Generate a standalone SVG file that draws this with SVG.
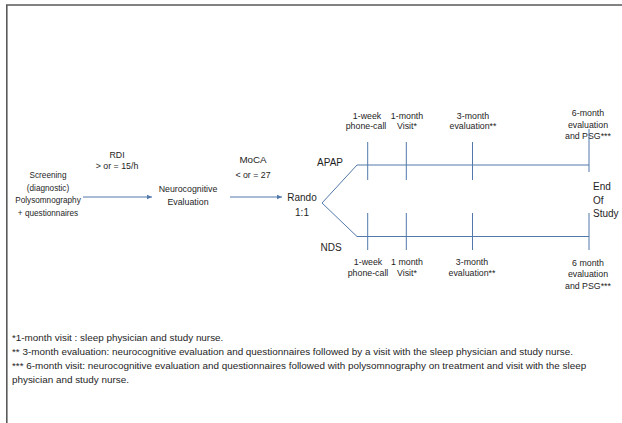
<svg xmlns="http://www.w3.org/2000/svg" width="622" height="423" viewBox="0 0 622 423">
<style>
text{font-family:"Liberation Sans",Arial,sans-serif;fill:#1e1e1e;}
.c{text-anchor:middle;}
.s8{font-size:8.2px;}
.s9{font-size:8.8px;}
.s10{font-size:10px;}
.fn{font-size:9.9px;}
.ln{stroke:#5279aa;stroke-width:1;fill:none;}
.bd{stroke:#5a5a5a;stroke-width:1.6;fill:none;}
</style>
<defs>
<marker id="ah" markerWidth="6" markerHeight="6" refX="5" refY="3" orient="auto" markerUnits="userSpaceOnUse">
<path d="M0,0.8 L5,3 L0,5.2 Z" fill="#5279aa"/>
</marker>
</defs>
<rect x="0" y="0" width="622" height="423" fill="#ffffff"/>
<path class="bd" d="M6.8,423 L6.8,5 L622,5"/>

<g id="screening">
<text class="c s8" x="48" y="178">Screening</text>
<text class="c s8" x="48" y="190.5">(diagnostic)</text>
<text class="c s8" x="48" y="203">Polysomnography</text>
<text class="c s8" x="48" y="215.5">+ questionnaires</text>
</g>
<g id="rdi-label">
<text class="c s9" x="117" y="158">RDI</text>
<text class="c s9" x="117" y="168.5">&gt; or = 15/h</text>
</g>
<g id="neurocognitive">
<text class="c s9" x="188" y="192">Neurocognitive</text>
<text class="c s9" x="188" y="205">Evaluation</text>
</g>
<g id="moca-label">
<text class="c" style="font-size:9.8px" x="253" y="162.5">MoCA</text>
<text class="c s9" x="253" y="178">&lt; or = 27</text>
</g>
<g id="rando">
<text class="c s10" x="302" y="200.5">Rando</text>
<text class="c s10" x="302" y="215.5">1:1</text>
</g>
<g id="apap">
<text class="c s10" x="330" y="165.5">APAP</text>
</g>
<g id="nds">
<text class="c s10" x="331" y="250.5">NDS</text>
</g>
<g id="end-of-study">
<text class="s10" x="593" y="190">End</text>
<text class="s10" x="593" y="203.5">Of</text>
<text class="s10" x="593" y="216.5">Study</text>
</g>

<g id="apap-labels">
<text class="c s9" x="367" y="118.8">1-week</text>
<text class="c s9" x="366" y="129">phone-call</text>
<text class="c s9" x="407" y="118.8">1-month</text>
<text class="c s9" x="407" y="129">Visit*</text>
<text class="c s9" x="473" y="118.8">3-month</text>
<text class="c s9" x="473" y="129">evaluation**</text>
<text class="c s9" x="588" y="115.8">6-month</text>
<text class="c s9" x="588" y="127.5">evaluation</text>
<text class="c s9" x="588" y="139">and PSG***</text>
</g>
<g id="nds-labels">
<text class="c s9" x="368" y="265">1-week</text>
<text class="c s9" x="368" y="276.3">phone-call</text>
<text class="c s9" x="407" y="265">1 month</text>
<text class="c s9" x="407" y="276.3">Visit*</text>
<text class="c s9" x="472" y="265">3-month</text>
<text class="c s9" x="472" y="276.3">evaluation**</text>
<text class="c s9" x="588" y="266">6 month</text>
<text class="c s9" x="588" y="277.3">evaluation</text>
<text class="c s9" x="588" y="289">and PSG***</text>
</g>

<g id="connectors">
<line class="ln" x1="83" y1="197" x2="152" y2="197" marker-end="url(#ah)"/>
<line class="ln" x1="230" y1="197" x2="282" y2="197" marker-end="url(#ah)"/>
<path class="ln" d="M357,165 L322,203 L357,236.5"/>
<line class="ln" x1="357" y1="165" x2="589" y2="165"/>
<line class="ln" x1="357" y1="236.5" x2="589" y2="236.5"/>
<line class="ln" x1="367.7" y1="142" x2="367.7" y2="180"/>
<line class="ln" x1="406.3" y1="142" x2="406.3" y2="180"/>
<line class="ln" x1="472.5" y1="142" x2="472.5" y2="180"/>
<line class="ln" x1="589" y1="129" x2="589" y2="172"/>
<line class="ln" x1="367.7" y1="213" x2="367.7" y2="250"/>
<line class="ln" x1="406.3" y1="213" x2="406.3" y2="250"/>
<line class="ln" x1="472.5" y1="213" x2="472.5" y2="250"/>
<line class="ln" x1="589" y1="213" x2="589" y2="250"/>
</g>

<g id="footnotes">
<text class="fn" x="12" y="340.5">*1-month visit : sleep physician and study nurse.</text>
<text class="fn" x="12" y="354.5">** 3-month evaluation: neurocognitive evaluation and questionnaires followed by a visit with the sleep physician and study nurse.</text>
<text class="fn" x="12" y="368.5">*** 6-month visit: neurocognitive evaluation and questionnaires followed with polysomnography on treatment and visit with the sleep</text>
<text class="fn" x="12" y="382.5">physician and study nurse.</text>
</g>
</svg>
